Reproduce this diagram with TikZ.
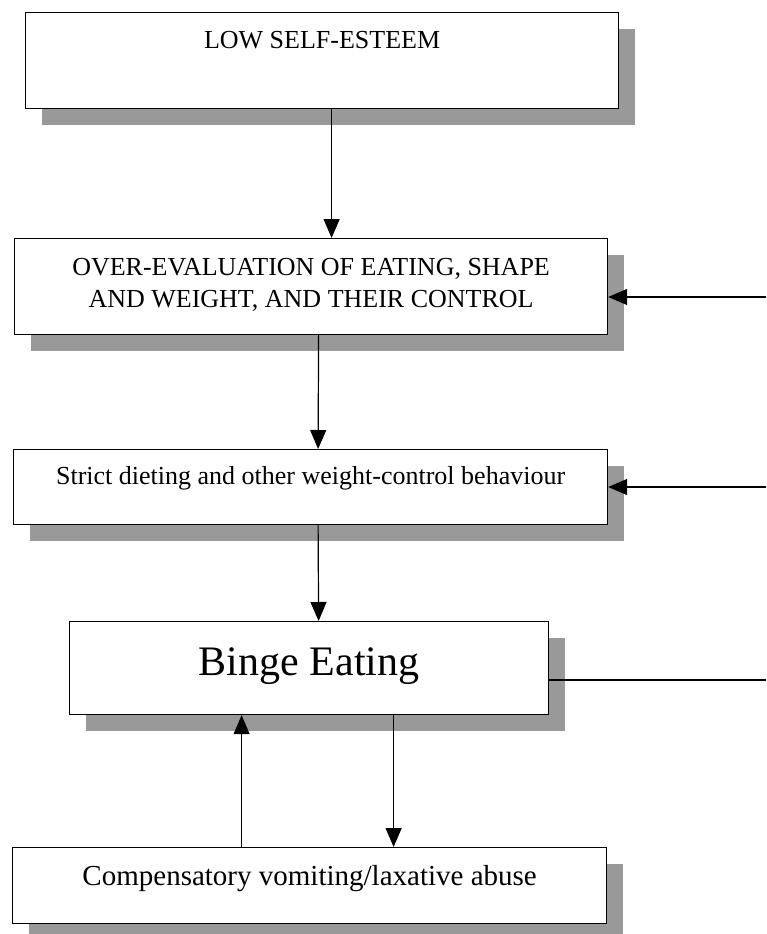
\documentclass[tikz,border=0pt]{standalone}
\usepackage{fontspec}
\setmainfont{Liberation Serif}
\usetikzlibrary{shadows,arrows.meta}

\begin{document}
\begin{tikzpicture}[x=1pt,y=-1pt,line width=1.2pt,
  box/.style={draw, rectangle, fill=white, inner sep=0pt, anchor=north west,
    drop shadow={shadow xshift=16pt, shadow yshift=-16pt, fill=black!40, opacity=1}},
  arr/.style={-{Triangle[length=19pt,width=16pt]}}]
 \useasboundingbox (0,0) rectangle (766,934);
 \node[box, minimum width=593pt, text height=36pt, text depth=60pt, font=\fontsize{26}{32}\selectfont] (esteem) at (25,12){LOW SELF-ESTEEM};
 \node[box, minimum width=593pt, text height=69pt, text depth=27pt, align=center, font=\fontsize{26}{32}\selectfont] (overeval) at (14,238){OVER-EVALUATION OF EATING, SHAPE\\AND WEIGHT, AND THEIR CONTROL};
 \node[box, minimum width=594pt, text height=35pt, text depth=40pt, font=\fontsize{26}{32}\selectfont] (dieting) at (13,449){Strict dieting and other weight-control behaviour};
 \node[box, minimum width=479pt, text height=54pt, text depth=39pt, font=\fontsize{42}{50}\selectfont] (binge) at (69,621){Binge Eating};
 \node[box, minimum width=594pt, text height=38pt, text depth=38pt, font=\fontsize{29}{35}\selectfont] (compens) at (12,847){Compensatory vomiting/laxative abuse};
 \draw[arr] ([xshift=9.5pt]esteem.south) -- ([xshift=20.5pt]overeval.north);
 \draw[arr] ([xshift=7.5pt]overeval.south) -- ([xshift=7.5pt]dieting.north);
 \draw[arr] ([xshift=7.5pt]dieting.south) -- ([xshift=9.5pt]binge.north);
 \draw[arr] ([xshift=84.5pt]binge.south) -- ([xshift=84pt]compens.north);
 \draw[arr] ([xshift=-68pt]compens.north) -- ([xshift=-67.5pt]binge.south);
% Pfeile von rechts, unten nur Linie ohne Spitze
 \coordinate (in1) at (766,297);
 \coordinate (in2) at (766,487);
 \coordinate (out1) at (766,680);
 \draw[arr] (in1) -- (in1 -| overeval.east);
 \draw[arr] (in2) -- (in2 -| dieting.east);
 \draw (binge.east |- out1) -- (out1);
\end{tikzpicture}
\end{document}
